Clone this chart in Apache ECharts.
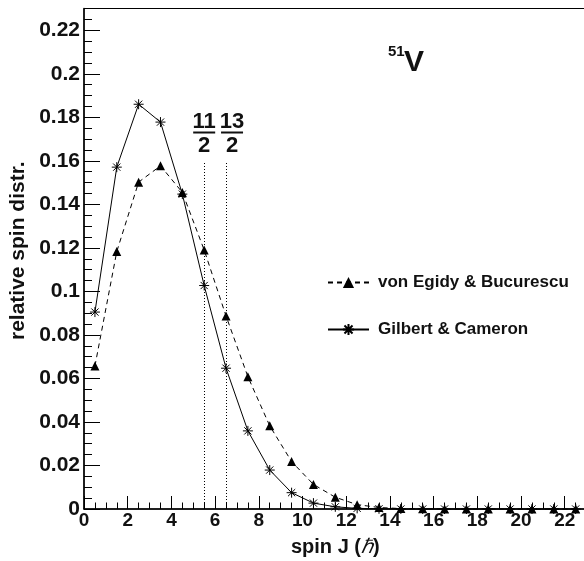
<!DOCTYPE html>
<html><head><meta charset="utf-8">
<script src="https://cdn.jsdelivr.net/npm/echarts@6/dist/echarts.min.js"></script>
<style>html,body{margin:0;padding:0;background:#fff}#c{width:584px;height:561px}</style>
</head><body><div id="c"></div>
<script>
// ---- data ----
const spinJ = [0.5,1.5,2.5,3.5,4.5,5.5,6.5,7.5,8.5,9.5,10.5,11.5,12.5,13.5,14.5,15.5,16.5,17.5,18.5,19.5,20.5,21.5,22.5];
const vonEgidyBucurescu = [0.0657,0.1183,0.1502,0.1577,0.1455,0.1190,0.0887,0.0608,0.0382,0.0218,0.0113,0.0054,0.0020,0.0007,0.0002,0.0001,0,0,0,0,0,0,0];
const gilbertCameron = [0.0905,0.1571,0.1860,0.1778,0.1447,0.1027,0.0647,0.0359,0.0179,0.0075,0.0027,0.0010,0.0003,0.0001,0,0,0,0,0,0,0,0,0];
const seriesNames = ['von Egidy & Bucurescu', 'Gilbert & Cameron'];
const xTickLabels = ['0','2','4','6','8','10','12','14','16','18','20','22'];
const yTickLabels = ['0','0.02','0.04','0.06','0.08','0.1','0.12','0.14','0.16','0.18','0.2','0.22'];
const markerJ = [5.5, 6.5];
const markerTop = 0.159;
const fractionNum = ['11', '13'];
const fractionDen = ['2', '2'];

// ---- layout ----
const FONT = '"Liberation Sans", Arial, Helvetica, sans-serif';
const fracShift = [0, 6];
const starPath = 'path://M0,-5L0,5M-5,0L5,0M-3.6,-3.6L3.6,3.6M-3.6,3.6L3.6,-3.6';

const chart = echarts.init(document.getElementById('c'), null, {renderer: 'canvas'});

function fmtY(v) {
  const s = String(+v.toFixed(4));
  return yTickLabels.indexOf(s) >= 0 ? s : '';
}
function fmtX(v) {
  const s = String(+v.toFixed(4));
  return xTickLabels.indexOf(s) >= 0 ? s : '';
}

const option = {
  animation: false,
  backgroundColor: '#fff',
  textStyle: {fontFamily: FONT},
  grid: {left: 84, top: 8.5, width: 502.6, height: 500.5, show: true, borderColor: '#000', borderWidth: 1,
    containLabel: false, outerBoundsMode: 'none'},
  xAxis: [{
    type: 'value', min: 0, max: 23, interval: 2, position: 'bottom',
    axisLine: {show: true, onZero: false, lineStyle: {color: '#000', width: 1.5}},
    axisTick: {show: true, inside: true, length: 13, lineStyle: {color: '#000', width: 1}},
    splitLine: {show: false},
    axisLabel: {formatter: fmtX, color: '#111', fontFamily: FONT, fontWeight: 'bold', fontSize: 19, margin: 2, showMaxLabel: false},
    name: 'spin J ({h|ℏ})', nameLocation: 'middle', nameGap: 28,
    nameTextStyle: {color: '#111', fontFamily: FONT, fontWeight: 'bold', fontSize: 20,
      rich: {h: {fontFamily: FONT, fontStyle: 'italic', fontWeight: 'normal', fontSize: 20, color: '#111'}}}
  }, {
    type: 'value', min: 0, max: 23, interval: 0.5, position: 'bottom',
    axisLine: {show: false}, axisLabel: {show: false}, splitLine: {show: false},
    axisTick: {show: true, inside: true, length: 6.5, lineStyle: {color: '#000', width: 1}}
  }],
  yAxis: [{
    type: 'value', min: 0, max: 0.23, interval: 0.02, position: 'left',
    axisLine: {show: true, onZero: false, lineStyle: {color: '#000', width: 1.5}},
    axisTick: {show: true, inside: true, length: 16, lineStyle: {color: '#000', width: 1}},
    splitLine: {show: false},
    axisLabel: {formatter: fmtY, color: '#111', fontFamily: FONT, fontWeight: 'bold', fontSize: 21, margin: 4, showMaxLabel: false},
    name: 'relative spin distr.', nameLocation: 'middle', nameGap: 55,
    nameTextStyle: {color: '#111', fontFamily: FONT, fontWeight: 'bold', fontSize: 21, padding: [0, 0, 0, 16]}
  }, {
    type: 'value', min: 0, max: 0.23, interval: 0.005, position: 'left',
    axisLine: {show: false}, axisLabel: {show: false}, splitLine: {show: false},
    axisTick: {show: true, inside: true, length: 8, lineStyle: {color: '#000', width: 1}}
  }],
  legend: {
    orient: 'vertical', left: 322, top: 269,
    itemWidth: 41, itemHeight: 14, itemGap: 30,
    data: seriesNames,
    textStyle: {color: '#111', fontFamily: FONT, fontWeight: 'bold', fontSize: 17, padding: [0, 0, 0, 4]}
  },
  series: [{
    name: seriesNames[0], type: 'line', xAxisIndex: 0, yAxisIndex: 0,
    data: spinJ.map((j, i) => [j, vonEgidyBucurescu[i]]),
    symbol: 'triangle', symbolSize: 9, clip: false,
    itemStyle: {color: '#000'},
    lineStyle: {color: '#000', width: 1, type: [5, 4]},
    z: 3
  }, {
    name: seriesNames[1], type: 'line', xAxisIndex: 0, yAxisIndex: 0,
    data: spinJ.map((j, i) => [j, gilbertCameron[i]]),
    symbol: starPath, symbolSize: 10, clip: false,
    itemStyle: {color: 'none', borderColor: '#000', borderWidth: 1},
    lineStyle: {color: '#000', width: 1, type: 'solid'},
    markLine: {
      silent: true, symbol: 'none', label: {show: false},
      lineStyle: {color: '#000', width: 1, type: [1, 2]},
      data: markerJ.map(j => [{coord: [j, 0]}, {coord: [j, markerTop]}])
    },
    z: 4
  }]
};
chart.setOption(option);

const gfx = [];
markerJ.forEach((j, i) => {
  const p = chart.convertToPixel({gridIndex: 0}, [j, markerTop]);
  const cx = p[0] + fracShift[i];
  const top = p[1];
  gfx.push({type: 'text', x: cx, y: top - 41, style: {text: fractionNum[i], font: 'bold 22px ' + FONT, fill: '#111', align: 'center', verticalAlign: 'middle'}});
  gfx.push({type: 'rect', shape: {x: cx - 11, y: top - 31.5, width: 22, height: 2}, style: {fill: '#111'}});
  gfx.push({type: 'text', x: cx, y: top - 17.5, style: {text: fractionDen[i], font: 'bold 22px ' + FONT, fill: '#111', align: 'center', verticalAlign: 'middle'}});
});
gfx.push({type: 'text', x: 388, y: 52, style: {text: '51', font: 'bold 15px ' + FONT, fill: '#111', align: 'left', verticalAlign: 'middle'}});
gfx.push({type: 'text', x: 404, y: 63, style: {text: 'V', font: 'bold 30px ' + FONT, fill: '#111', align: 'left', verticalAlign: 'middle'}});
chart.setOption({graphic: gfx});
</script>
</body></html>
